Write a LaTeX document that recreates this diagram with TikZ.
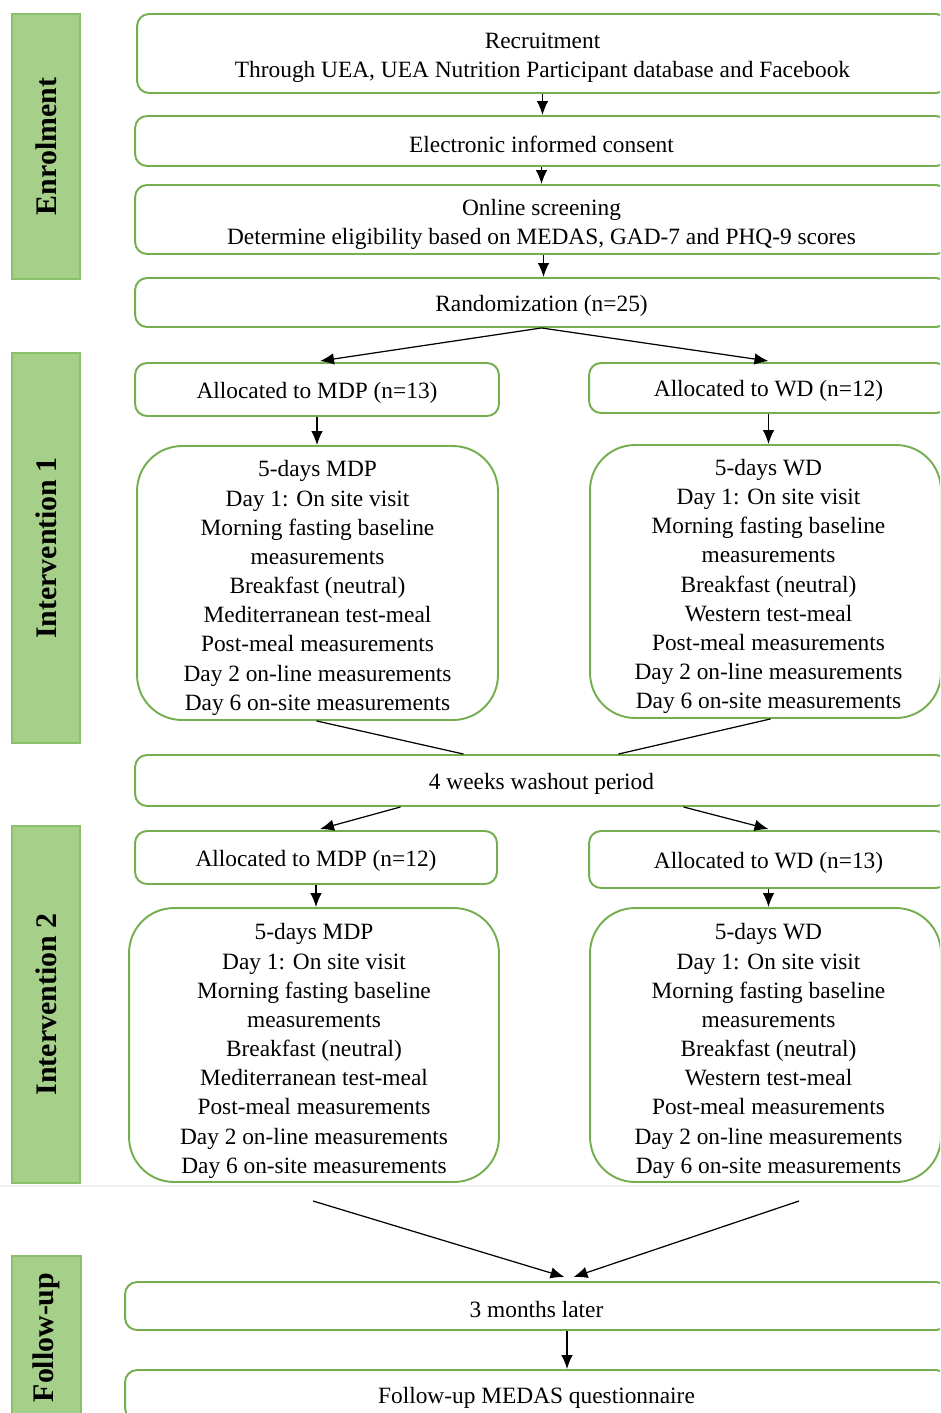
\documentclass[tikz,border=0pt]{standalone}
\usepackage{fontspec}
\setmainfont{Liberation Serif}
\usetikzlibrary{arrows.meta,calc}
\definecolor{bargreen}{HTML}{A6CF8A}
\definecolor{barline}{HTML}{8CBF6C}
\definecolor{boxgreen}{HTML}{74AE4E}
\begin{document}
\begin{tikzpicture}[x=0.02cm,y=-0.02cm,
  phase/.style={draw=barline, line width=0.8pt, fill=bargreen, rotate=90, inner sep=0,
    font=\fontsize{17}{20}\selectfont\bfseries, minimum height=1.36cm},
  box/.style={draw=boxgreen, line width=1.1pt, rounded corners=0.24cm, fill=white,
    align=center, inner sep=0, font=\fontsize{13.3}{16.6}\selectfont,
    execute at begin node={\rule{0pt}{13pt}}},
  bigbox/.style={box, rounded corners=0.9cm},
  mtext/.style={align=center, inner sep=0, font=\fontsize{13.3}{16.6}\selectfont, yshift=-0.1cm},
  arr/.style={-{Latex[length=2.8mm,width=2.3mm]}, line width=0.7pt},
  ln/.style={line width=0.7pt}]
\useasboundingbox (0,0) rectangle (940,1413);
\clip (0,0) rectangle (940,1413);
\fill[white] (0,0) rectangle (940,1413);
\draw[gray!12, line width=1pt] (0,1186) -- (940,1186);

% phase bars
\node[phase, minimum width=5.3cm] (enr) at (46,146.5) {Enrolment};
\node[phase, minimum width=7.8cm] (int1) at (46,548) {Intervention 1};
\node[phase, minimum width=7.14cm] (int2) at (46,1004.5) {Intervention 2};
\node[phase, minimum width=3.26cm, minimum height=1.38cm] (fup) at (46.5,1337.5) {Follow-up};

% boxes
\node[box, minimum width=16.22cm, minimum height=1.58cm,
  label={[mtext, yshift=0.02cm]center:{Recruitment\\Through UEA, UEA Nutrition Participant database and Facebook}}]
  (rec) at (542.5,53.5) {};
\node[box, minimum width=16.26cm, minimum height=1.0cm] (cons) at (541.5,141)
  {Electronic informed consent};
\node[box, minimum width=16.26cm, minimum height=1.38cm,
  label={[mtext]center:{Online screening\\Determine eligibility based on MEDAS, GAD-7 and PHQ-9 scores}}]
  (scr) at (541.5,219.5) {};
\node[box, minimum width=16.26cm, minimum height=0.98cm] (rand) at (541.5,302.5)
  {Randomization (n=25)};
\node[box, minimum width=7.28cm, minimum height=1.06cm] (am1) at (317,389.5)
  {Allocated to MDP (n=13)};
\node[box, minimum width=7.18cm, minimum height=1.0cm] (aw1) at (768.5,388)
  {Allocated to WD (n=12)};
\node[bigbox, minimum width=7.22cm, minimum height=5.48cm,
  label={[mtext]center:{5-days MDP\\Day 1: On site visit\\Morning fasting baseline\\measurements\\Breakfast (neutral)\\Mediterranean test-meal\\Post-meal measurements\\Day 2 on-line measurements\\Day 6 on-site measurements}}]
  (m1) at (317.5,583) {};
\node[bigbox, minimum width=7.02cm, minimum height=5.46cm,
  label={[mtext, xshift=0.06cm]center:{5-days WD\\Day 1: On site visit\\Morning fasting baseline\\measurements\\Breakfast (neutral)\\Western test-meal\\Post-meal measurements\\Day 2 on-line measurements\\Day 6 on-site measurements}}]
  (w1) at (765.5,581.5) {};
\node[box, minimum width=16.26cm, minimum height=1.02cm] (wash) at (541.5,780.5)
  {4 weeks washout period};
\node[box, minimum width=7.24cm, minimum height=1.06cm] (am2) at (316,857.5)
  {Allocated to MDP (n=12)};
\node[box, minimum width=7.18cm, minimum height=1.14cm] (aw2) at (768.5,859.5)
  {Allocated to WD (n=13)};
\node[bigbox, minimum width=7.4cm, minimum height=5.48cm,
  label={[mtext, yshift=-0.02cm]center:{5-days MDP\\Day 1: On site visit\\Morning fasting baseline\\measurements\\Breakfast (neutral)\\Mediterranean test-meal\\Post-meal measurements\\Day 2 on-line measurements\\Day 6 on-site measurements}}]
  (m2) at (314,1045) {};
\node[bigbox, minimum width=7.02cm, minimum height=5.48cm,
  label={[mtext, xshift=0.06cm, yshift=-0.02cm]center:{5-days WD\\Day 1: On site visit\\Morning fasting baseline\\measurements\\Breakfast (neutral)\\Western test-meal\\Post-meal measurements\\Day 2 on-line measurements\\Day 6 on-site measurements}}]
  (w2) at (765.5,1045) {};
\node[box, minimum width=16.46cm, minimum height=0.96cm] (three) at (536.5,1306)
  {3 months later};
\node[box, minimum width=16.46cm, minimum height=1.0cm] (fol) at (536.5,1395)
  {Follow-up MEDAS questionnaire};

% connectors
\draw[arr] (rec.south) -- (rec.south |- cons.north);
\draw[arr] (cons.south) -- (cons.south |- scr.north);
\draw[arr] ($(scr.south)+(2,0)$) -- ($(rand.north)+(2,0)$);
\draw[arr] (rand.south) -- ($(am1.north)+(3,-1)$);
\draw[arr] (rand.south) -- ($(aw1.north)+(0,-1)$);
\draw[arr] (am1.south) -- (am1.south |- m1.north);
\draw[arr] (aw1.south) -- (aw1.south |- w1.north);
\draw[ln] ($(m1.south)+(-1,0)$) -- ($(wash.north)+(-78,0)$);
\draw[ln] ($(w1.south)+(5,0)$) -- ($(wash.north)+(77,0)$);
\draw[arr] ($(wash.south)+(-141,0)$) -- ($(am2.north)+(4,-1)$);
\draw[arr] ($(wash.south)+(142,0)$) -- ($(aw2.north)+(0,-1)$);
\draw[arr] (am2.south) -- (am2.south |- m2.north);
\draw[arr] (aw2.south) -- (aw2.south |- w2.north);
\coordinate (s1) at (313,1201);
\coordinate (s2) at (799,1201);
\draw[arr] (s1) -- ($(three.north)+(28,-4)$);
\draw[arr] (s2) -- ($(three.north)+(37,-4)$);
\draw[arr] ($(three.south)+(30.5,0)$) -- ($(fol.north)+(30.5,0)$);
\end{tikzpicture}
\end{document}
